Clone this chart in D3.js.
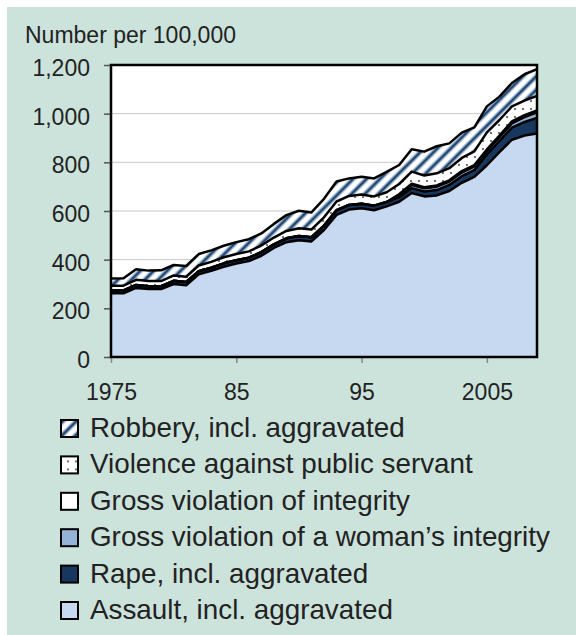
<!DOCTYPE html>
<html>
<head>
<meta charset="utf-8">
<script src="https://cdn.jsdelivr.net/npm/d3@7"></script>
<style>
    body { margin: 0; background: #fff; }
    svg text { font-family: "Liberation Sans", Arial, sans-serif; fill: #222; }
</style>
</head>
<body>
<div class="chart"></div>
<script>
// Reported crimes of violence, number per 100,000 inhabitants
const years = d3.range(1975, 2010);

const assault = [262, 262, 284, 279, 279, 300, 295, 340, 354, 371,
    384, 394, 416, 448, 472, 480, 475, 522, 584, 606,
    611, 603, 619, 638, 674, 660, 664, 682, 716, 740,
    788, 842, 893, 910, 919];
const rape = [12, 12, 12, 12, 12, 13, 13, 13, 13, 14,
    14, 14, 15, 15, 16, 17, 17, 18, 19, 19,
    19, 19, 18, 19, 20, 20, 22, 25, 27, 28,
    44, 45, 50, 56, 63];
const womanIntegrity = [0, 0, 0, 0, 0, 0, 0, 0, 0, 0,
    0, 0, 0, 0, 0, 0, 0, 0, 0, 0,
    0, 0, 0, 9, 13, 13, 14, 14, 15, 15,
    14, 16, 17, 20, 23];
const integrity = [0, 0, 0, 0, 0, 0, 0, 0, 0, 0,
    0, 0, 0, 0, 0, 0, 0, 0, 0, 0,
    0, 0, 0, 3, 5, 5, 5, 5, 6, 6,
    7, 7, 8, 8, 8];
const publicServant = [19, 19, 21, 21, 21, 22, 22, 23, 24, 25,
    25, 26, 27, 28, 30, 32, 32, 34, 36, 37,
    38, 38, 40, 42, 50, 48, 50, 50, 54, 56,
    70, 64, 62, 60, 60];
const robbery = [30, 31, 44, 43, 44, 43, 44, 47, 47, 47,
    49, 50, 50, 56, 65, 72, 70, 76, 82, 72,
    73, 74, 84, 78, 92, 98, 111, 102, 104, 99,
    107, 96, 96, 108, 110];

const keys = ['assault', 'rape', 'womanIntegrity', 'integrity', 'publicServant', 'robbery'];
const labels = {
    robbery: 'Robbery, incl. aggravated',
    publicServant: 'Violence against public servant',
    integrity: 'Gross violation of integrity',
    womanIntegrity: 'Gross violation of a woman\u2019s integrity',
    rape: 'Rape, incl. aggravated',
    assault: 'Assault, incl. aggravated'
};
const fills = {
    assault: '#c6d9f0',
    rape: '#17375e',
    womanIntegrity: '#95b3d7',
    integrity: '#ffffff',
    publicServant: 'url(#dots)',
    robbery: 'url(#stripes)'
};

const table = years.map((yr, i) => ({
    year: yr,
    assault: assault[i],
    rape: rape[i],
    womanIntegrity: womanIntegrity[i],
    integrity: integrity[i],
    publicServant: publicServant[i],
    robbery: robbery[i]
}));

const W = 576, H = 635;
const margin = { top: 65, right: 39, bottom: 278, left: 111 };
const width = W - margin.left - margin.right;
const height = H - margin.top - margin.bottom;

const svg = d3.select('.chart')
    .append('svg')
    .attr('width', W)
    .attr('height', H);

// panel background
svg.append('rect')
    .attr('x', 7)
    .attr('y', 7)
    .attr('width', W - 7)
    .attr('height', H - 7)
    .style('fill', '#cce3dc');

const defs = svg.append('defs');

// diagonal stripes for robbery
const grad = defs.append('linearGradient')
    .attr('id', 'stripeGrad')
    .attr('x1', '0%').attr('x2', '100%')
    .attr('y1', '0%').attr('y2', '0%');
[['0%', '#ffffff'], ['18%', '#ffffff'], ['36%', '#6f8fb2'], ['46%', '#1c3f66'],
    ['54%', '#1c3f66'], ['64%', '#6f8fb2'], ['82%', '#ffffff'], ['100%', '#ffffff']].forEach(s => {
    grad.append('stop').attr('offset', s[0]).attr('stop-color', s[1]);
});
defs.append('pattern')
    .attr('id', 'stripes')
    .attr('patternUnits', 'userSpaceOnUse')
    .attr('width', 9.5)
    .attr('height', 9.5)
    .attr('patternTransform', 'rotate(45)')
    .append('rect')
    .attr('width', 9.5)
    .attr('height', 9.5)
    .style('fill', 'url(#stripeGrad)');

// sparse dots for violence against public servant
const dots = defs.append('pattern')
    .attr('id', 'dots')
    .attr('patternUnits', 'userSpaceOnUse')
    .attr('width', 8)
    .attr('height', 8);
dots.append('rect').attr('width', 8).attr('height', 8).style('fill', '#fff');
dots.append('circle').attr('cx', 4).attr('cy', 4).attr('r', 1).style('fill', '#444');

defs.append('clipPath')
    .attr('id', 'plotClip')
    .append('rect')
    .attr('width', width)
    .attr('height', height);

const g = svg.append('g')
    .attr('transform', 'translate(' + margin.left + ',' + margin.top + ')');

const x = d3.scaleLinear()
    .domain([1975, 2009])
    .range([0, width]);
const y = d3.scaleLinear()
    .domain([0, 1200])
    .range([height, 0]);

g.append('rect')
    .attr('width', width)
    .attr('height', height)
    .style('fill', '#fff');

// gridlines
g.append('g')
    .selectAll('line')
    .data(y.ticks(6).filter(v => v > 0 && v < 1200))
    .enter()
    .append('line')
    .attr('x1', 0)
    .attr('x2', width)
    .attr('y1', d => y(d))
    .attr('y2', d => y(d))
    .attr('stroke', '#c8c8c8')
    .attr('stroke-width', 1);

const series = d3.stack().keys(keys)(table);

const area = d3.area()
    .x(d => x(d.data.year))
    .y0(d => y(d[0]))
    .y1(d => y(d[1]));
const topLine = d3.line()
    .x(d => x(d.data.year))
    .y(d => y(d[1]));

const plot = g.append('g').attr('clip-path', 'url(#plotClip)');

plot.selectAll('.layer')
    .data(series)
    .enter()
    .append('path')
    .attr('class', 'layer')
    .attr('d', area)
    .style('fill', d => fills[d.key]);

plot.selectAll('.edge')
    .data(series)
    .enter()
    .append('path')
    .attr('class', 'edge')
    .attr('d', topLine)
    .style('fill', 'none')
    .style('stroke', '#000')
    .style('stroke-width', 2.5)
    .style('stroke-linejoin', 'round');

// Y axis
const yAxis = g.append('g')
    .call(d3.axisLeft(y).ticks(6).tickFormat(d3.format(',')).tickSize(7).tickSizeOuter(0).tickPadding(14));
yAxis.select('.domain').remove();
yAxis.selectAll('.tick line').attr('stroke', '#555').attr('stroke-width', 1.5);
yAxis.selectAll('.tick text')
    .attr('dy', '0.45em')
    .style('font-size', '23px')
    .style('fill', '#222');

// X axis
const xAxis = g.append('g')
    .attr('transform', 'translate(0,' + height + ')')
    .call(d3.axisBottom(x)
        .tickValues([1975, 1985, 1995, 2005])
        .tickFormat(d => (d === 1975 || d === 2005) ? String(d) : String(d).slice(2))
        .tickSize(6).tickSizeOuter(0).tickPadding(21));
xAxis.select('.domain').remove();
xAxis.selectAll('.tick line').attr('stroke', '#888').attr('stroke-width', 1.5);
xAxis.selectAll('.tick text')
    .style('font-size', '23px')
    .style('fill', '#222');

// plot frame
g.append('rect')
    .attr('width', width)
    .attr('height', height)
    .style('fill', 'none')
    .style('stroke', '#000')
    .style('stroke-width', 2.5);

svg.append('text')
    .attr('x', 25)
    .attr('y', 43)
    .style('font-size', '23px')
    .text('Number per 100,000');

// Legend
const legendKeys = keys.slice().reverse();
const legend = svg.append('g')
    .selectAll('g')
    .data(legendKeys)
    .enter()
    .append('g')
    .attr('transform', (d, i) => 'translate(0,' + (437 + i * 36.4) + ')');

legend.append('rect')
    .attr('x', 61)
    .attr('y', -17)
    .attr('width', 17)
    .attr('height', 17)
    .style('fill', d => fills[d])
    .style('stroke', '#000')
    .style('stroke-width', 2);

legend.append('text')
    .attr('x', 90)
    .attr('y', 0)
    .style('font-size', '27.8px')
    .text(d => labels[d]);
</script>
</body>
</html>
